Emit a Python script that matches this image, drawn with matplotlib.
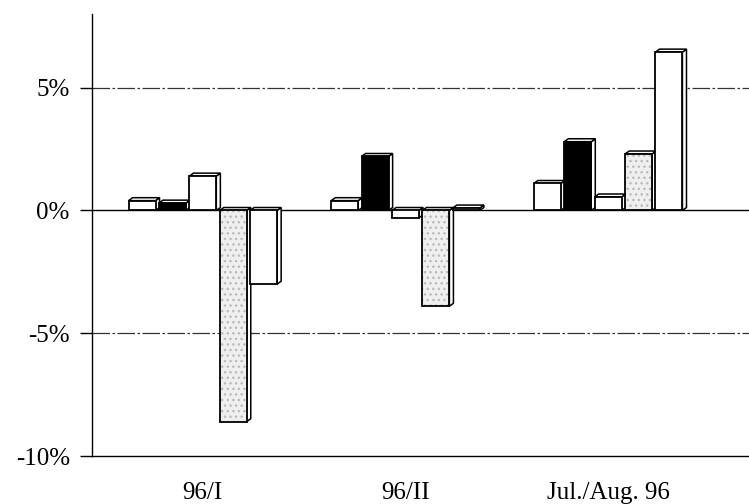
# -------------------------------------------------------------------------------------
# Libraries
import numpy as np
import matplotlib
matplotlib.use('Agg')
import matplotlib.pyplot as plt
from matplotlib.patches import Polygon
# -------------------------------------------------------------------------------------

# -------------------------------------------------------------------------------------
# Data (percent change)
categories = ['96/I', '96/II', 'Jul./Aug. 96']
series_1 = [0.4, 0.4, 1.1]
series_2 = [0.3, 2.2, 2.8]
series_3 = [1.4, -0.3, 0.55]
series_4 = [-8.6, -3.9, 2.3]
series_5 = [-3.0, 0.1, 6.45]
y_ticks = [-10, 5, 0, -5]
y_tick_labels = ['-10%', '5%', '0%', '-5%']
# -------------------------------------------------------------------------------------

plt.rcParams['font.family'] = ['Liberation Serif', 'DejaVu Serif']

series_list = [series_1, series_2, series_3, series_4, series_5]
face_colors = ['white', 'black', 'white', '#efefef', 'white']
hatches = [None, None, None, '...', None]

bar_step = 0.150
bar_width = 0.133
depth_x = 0.020
depth_y = 0.12

fig = plt.figure(figsize=(7.49, 5.04), dpi=100)
axes = fig.add_axes([0.1228, 0.0952, 0.8772, 0.877])

x_base = np.arange(len(categories))

# grid lines behind bars
for y_grid in [5, -5]:
    axes.axhline(y_grid, color='#333333', lw=0.9, linestyle=(0, (14, 2, 2, 2)), zorder=1)
axes.axhline(0, color='black', lw=1.0, zorder=1)

for i_s, (values, fc, hatch) in enumerate(zip(series_list, face_colors, hatches)):
    x_pos = x_base + (i_s - 2) * bar_step
    for x, v in zip(x_pos, values):
        z = 3 + i_s * 0.1
        top = max(v, 0)
        low = min(v, 0)
        x0 = x - bar_width / 2
        x1 = x + bar_width / 2
        # side face
        side = Polygon([[x1, low], [x1 + depth_x, low + depth_y], [x1 + depth_x, top + depth_y], [x1, top]],
                       closed=True, facecolor='white', edgecolor='black', lw=1.1, zorder=z)
        axes.add_patch(side)
        # top face
        roof = Polygon([[x0, top], [x0 + depth_x, top + depth_y], [x1 + depth_x, top + depth_y], [x1, top]],
                       closed=True, facecolor='white', edgecolor='black', lw=1.1, zorder=z)
        axes.add_patch(roof)
        # front face
        if hatch is not None:
            axes.bar(x, v, width=bar_width, color=fc, edgecolor='#bbbbbb', hatch=hatch, lw=0, zorder=z + 0.01)
            axes.bar(x, v, width=bar_width, color='none', edgecolor='black', lw=1.3, zorder=z + 0.02)
        else:
            axes.bar(x, v, width=bar_width, color=fc, edgecolor='black', lw=1.3, zorder=z + 0.01)

axes.set_xlim(-0.547, 2.695)
axes.set_ylim(-10, 8)

axes.set_yticks(y_ticks)
axes.set_yticklabels(y_tick_labels, fontsize=18)
axes.tick_params(axis='y', direction='out', length=9, width=1, pad=7)

axes.set_xticks(x_base)
axes.set_xticklabels(categories, fontsize=18)
axes.tick_params(axis='x', length=0, pad=19)

axes.spines['top'].set_visible(False)
axes.spines['right'].set_visible(False)
axes.spines['left'].set_linewidth(1.0)
axes.spines['bottom'].set_linewidth(1.0)

fig.savefig('out.png', dpi=100)
plt.close()
